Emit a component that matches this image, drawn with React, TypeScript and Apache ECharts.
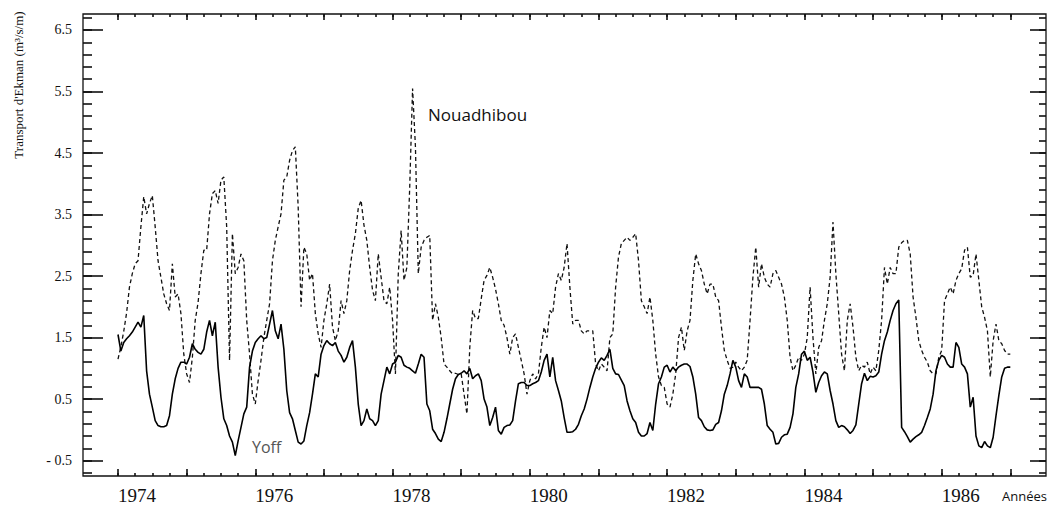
import React, { useEffect, useRef } from "react";
import * as echarts from "echarts";

// Ekman transport, semi-monthly samples starting January 1974
const START_YEAR = 1974;
const STEPS_PER_YEAR = 24;

const nouadhibou: number[] = [
  // 1974
  1.15, 1.35, 1.6, 1.9, 2.32, 2.54, 2.7, 2.75, 3.3, 3.79, 3.51, 3.68, 3.81, 3.3, 2.75, 2.48, 2.21, 2.05, 1.94, 2.7, 2.16, 2.21, 1.89, 1.23,
  // 1975
  0.91, 0.77, 1.18, 1.78, 2.07, 2.54, 2.92, 2.92, 3.51, 3.84, 3.89, 3.68, 4.06, 4.11, 3.3, 1.13, 3.19, 2.54, 2.64, 2.86, 2.75, 1.78, 1.23, 0.58,
  // 1976
  0.42, 0.8, 1.13, 1.5, 1.78, 2.05, 2.75, 3.08, 3.3, 3.51, 4.06, 4.11, 4.38, 4.54, 4.6, 3.62, 2.0, 2.97, 2.86, 2.43, 2.54, 1.89, 1.56, 1.34,
  // 1977
  1.78, 2.05, 2.37, 1.67, 1.45, 1.61, 2.1, 1.89, 2.1, 2.59, 2.92, 3.19, 3.6, 3.73, 3.33, 3.08, 2.64, 2.27, 2.1, 2.86, 2.48, 2.1, 2.05, 2.32,
  // 1978
  1.78, 0.91, 2.54, 3.24, 2.43, 2.64, 3.95, 5.55, 4.6, 2.54, 2.97, 3.08, 3.13, 3.16, 1.78, 2.05, 1.83, 1.5, 1.07, 1.02, 0.96, 0.91, 0.92, 0.9,
  // 1979
  0.91, 0.58, 0.26, 1.34, 1.94, 1.81, 1.81, 2.13, 2.43, 2.51, 2.64, 2.48, 2.29, 2.05, 1.78, 1.7, 1.5, 1.23, 1.5, 1.56, 1.34, 1.13, 0.91, 0.58,
  // 1980
  0.8, 0.91, 0.83, 0.91, 1.34, 1.67, 1.5, 1.94, 1.89, 2.32, 2.54, 2.43, 2.64, 3.03, 2.32, 1.72, 1.78, 1.78, 1.61, 1.56, 1.61, 1.61, 1.61, 1.07,
  // 1981
  0.96, 1.07, 1.02, 0.96, 1.5, 1.56, 2.32, 2.81, 3.03, 3.08, 3.13, 3.08, 3.13, 3.19, 2.75, 2.1, 2.0, 1.89, 2.16, 1.78, 1.23, 0.86, 0.72, 0.69,
  // 1982
  0.42, 0.37, 0.58, 0.91, 1.5, 1.67, 1.29, 1.61, 1.78, 2.43, 2.86, 2.7, 2.59, 2.37, 2.21, 2.37, 2.37, 2.16, 2.1, 1.67, 1.29, 1.13, 1.0, 1.02,
  // 1983
  1.1, 1.02, 0.96, 1.02, 1.13, 1.78, 2.48, 2.97, 2.32, 2.7, 2.48, 2.37, 2.32, 2.54, 2.59, 2.48, 2.37, 2.16, 1.78, 1.18, 0.96, 1.05, 1.18, 1.13,
  // 1984
  1.23, 1.5, 2.32, 1.5, 0.91, 1.34, 1.45, 1.78, 2.05, 2.48, 3.38, 2.54, 1.89, 1.23, 0.96, 1.78, 2.05, 1.67, 1.18, 0.96, 1.05, 1.02, 1.1, 0.91,
  // 1985
  1.02, 0.96, 1.29, 1.78, 2.64, 2.37, 2.64, 2.54, 2.54, 2.97, 3.04, 3.08, 3.08, 2.86, 2.16, 1.83, 1.45, 1.29, 1.18, 1.1, 0.96, 0.91, 0.91, 1.18,
  // 1986
  1.29, 2.1, 2.21, 2.32, 2.21, 2.43, 2.54, 2.62, 2.92, 2.97, 2.48, 2.51, 2.86, 2.43, 2.0, 1.83, 1.61, 0.86, 1.45, 1.72, 1.45, 1.4, 1.29, 1.23,
  // 1987
  1.23,
];

const yoff: number[] = [
  // 1974
  1.55, 1.28, 1.42, 1.48, 1.53, 1.59, 1.67, 1.75, 1.67, 1.86, 0.96, 0.58, 0.37, 0.15, 0.07, 0.05, 0.05, 0.07, 0.23, 0.58, 0.83, 1.0, 1.1, 1.1,
  // 1975
  1.07, 1.18, 1.4, 1.31, 1.26, 1.23, 1.31, 1.59, 1.78, 1.53, 1.75, 1.02, 0.53, 0.18, 0.07, -0.1, -0.2, -0.42, -0.18, 0.04, 0.26, 0.37, 1.02, 1.28,
  // 1976
  1.42, 1.48, 1.53, 1.48, 1.5, 1.72, 1.94, 1.61, 1.48, 1.72, 1.31, 0.64, 0.28, 0.18, -0.01, -0.2, -0.23, -0.18, 0.07, 0.28, 0.58, 0.91, 0.86, 1.23,
  // 1977
  1.37, 1.45, 1.4, 1.37, 1.42, 1.28, 1.21, 1.1, 1.18, 1.34, 1.45, 1.02, 0.42, 0.07, 0.15, 0.34, 0.18, 0.15, 0.07, 0.15, 0.58, 0.8, 1.02, 0.91,
  // 1978
  1.07, 1.1, 1.21, 1.18, 1.05, 1.02, 1.0, 0.96, 0.92, 1.07, 1.23, 1.18, 0.42, 0.31, 0.01, -0.06, -0.15, -0.19, -0.04, 0.18, 0.42, 0.66, 0.83, 0.9,
  // 1979
  0.92, 0.96, 0.91, 1.0, 0.83, 0.88, 0.91, 0.8, 0.5, 0.37, 0.07, 0.2, 0.37, -0.01, -0.07, 0.04, 0.07, 0.08, 0.15, 0.47, 0.75, 0.77, 0.77, 0.72,
  // 1980
  0.72, 0.75, 0.77, 0.8, 0.94, 1.13, 1.23, 0.86, 1.18, 0.8, 0.64, 0.47, 0.2, -0.04, -0.04, -0.03, 0.01, 0.09, 0.23, 0.34, 0.5, 0.69, 0.86, 1.0,
  // 1981
  1.1, 1.17, 1.13, 1.21, 1.31, 1.0, 0.91, 0.9, 0.81, 0.72, 0.47, 0.31, 0.18, 0.12, -0.04, -0.1, -0.1, -0.06, 0.12, -0.01, 0.42, 0.75, 0.86, 1.02,
  // 1982
  1.05, 0.94, 1.02, 0.96, 1.02, 1.05, 1.07, 1.07, 1.03, 0.86, 0.58, 0.2, 0.15, 0.05, 0.0, -0.01, 0.0, 0.09, 0.12, 0.31, 0.58, 0.72, 0.91, 1.13,
  // 1983
  1.02, 0.8, 0.69, 0.91, 0.86, 0.69, 0.69, 0.69, 0.69, 0.66, 0.42, 0.07, 0.01, -0.04, -0.23, -0.22, -0.12, -0.08, -0.07, 0.04, 0.26, 0.69, 0.91, 1.23,
  // 1984
  1.28, 1.13, 1.18, 0.94, 0.61, 0.77, 0.88, 0.94, 0.91, 0.64, 0.42, 0.15, 0.04, 0.07, 0.05, 0.0, -0.06, -0.01, 0.08, 0.42, 0.75, 0.92, 0.8, 0.87,
  // 1985
  0.86, 0.88, 0.94, 1.23, 1.45, 1.59, 1.78, 1.94, 2.05, 2.11, 0.04, -0.03, -0.11, -0.2, -0.15, -0.11, -0.08, -0.04, 0.07, 0.2, 0.34, 0.58, 0.96, 1.13,
  // 1986
  1.21, 1.18, 1.07, 1.02, 1.02, 1.42, 1.34, 1.07, 1.02, 0.91, 0.37, 0.53, -0.1, -0.26, -0.29, -0.19, -0.26, -0.29, -0.12, 0.23, 0.56, 0.86, 1.0, 1.02,
  // 1987
  1.02,
];

const xLabelYears = [1974, 1976, 1978, 1980, 1982, 1984, 1986];
const xMajorTicks = [1974, 1975, 1976, 1977, 1978, 1979, 1980, 1981, 1982, 1983, 1984, 1985, 1986, 1987];
const yLabelValues = [-0.5, 0.5, 1.5, 2.5, 3.5, 4.5, 5.5, 6.5];

const X_MIN = 1973.49;
const X_MAX = 1987.52;
const Y_MIN = -0.75;
const Y_MAX = 6.76;

const xMinorTicks: number[] = [];
for (let i = 0; i <= 13 * 4; i++) xMinorTicks.push(1974 + i * 0.25);
const yMinorTicks: number[] = [];
for (let i = 0; i <= 37; i++) yMinorTicks.push(Math.round((-0.7 + i * 0.2) * 10) / 10);

function toPairs(vals: number[]) {
  return vals.map((v, i) => [START_YEAR + i / STEPS_PER_YEAR, v]);
}

const SERIF = "'Liberation Serif', 'DejaVu Serif', serif";
const SANS = "'Open Sans', 'Noto Sans', sans-serif";
const INK = "#111";

export default function App() {
  const ref = useRef<HTMLDivElement>(null);
  useEffect(() => {
    if (!ref.current) return;
    const chart = echarts.init(ref.current, undefined, { renderer: "svg" });

    const xBase = (position: string, len: number, ticks: number[], label: any) => ({
      type: "value",
      min: X_MIN,
      max: X_MAX,
      position,
      offset: 0,
      splitLine: { show: false },
      axisLine: { show: false, onZero: false },
      axisTick: { show: true, inside: true, length: len, customValues: ticks, lineStyle: { color: INK, width: 1.6 } },
      axisLabel: label,
    });
    const yBase = (position: string, len: number, ticks: number[], label: any) => ({
      type: "value",
      min: Y_MIN,
      max: Y_MAX,
      position,
      offset: 0,
      splitLine: { show: false },
      axisLine: { show: false, onZero: false },
      axisTick: { show: true, inside: true, length: len, customValues: ticks, lineStyle: { color: INK, width: 1.6 } },
      axisLabel: label,
    });

    chart.setOption({
      animation: false,
      backgroundColor: "#fff",
      grid: {
        left: 83,
        right: 7,
        top: 14,
        bottom: 32,
        show: true,
        borderColor: INK,
        borderWidth: 1.3,
        containLabel: false,
        outerBoundsMode: "none",
      },
      xAxis: [
        xBase("bottom", 7, xMajorTicks, {
          show: true,
          customValues: xLabelYears,
          align: "left",
          margin: 10,
          fontSize: 19,
          fontFamily: SERIF,
          color: INK,
          formatter: (v: number) => String(Math.round(v)),
        }),
        xBase("bottom", 3, xMinorTicks, { show: false }),
        xBase("top", 6, xMajorTicks, { show: false }),
        xBase("top", 3, xMinorTicks, { show: false }),
      ],
      yAxis: [
        yBase("left", 20, yLabelValues, {
          show: true,
          customValues: yLabelValues,
          align: "right",
          verticalAlign: "middle",
          margin: 11,
          fontSize: 14,
          fontFamily: SERIF,
          color: INK,
          formatter: (v: number) => (v < 0 ? "- " + Math.abs(v).toFixed(1) : v.toFixed(1)),
        }),
        yBase("left", 9, yMinorTicks, { show: false }),
        yBase("right", 16, yLabelValues, { show: false }),
        yBase("right", 7, yMinorTicks, { show: false }),
      ],
      series: [
        {
          name: "Nouadhibou",
          type: "line",
          xAxisIndex: 0,
          yAxisIndex: 0,
          data: toPairs(nouadhibou),
          showSymbol: false,
          silent: true,
          lineStyle: { color: "#111", width: 1.3, type: [4, 3] },
        },
        {
          name: "Yoff",
          type: "line",
          xAxisIndex: 0,
          yAxisIndex: 0,
          data: toPairs(yoff),
          showSymbol: false,
          silent: true,
          lineStyle: { color: "#000", width: 1.6 },
        },
      ],
      graphic: [
        {
          type: "text",
          x: 18,
          y: 85,
          rotation: Math.PI / 2,
          style: {
            text: "Transport d'Ekman (m³/s/m)",
            fontSize: 13,
            fontFamily: SERIF,
            fill: INK,
            textAlign: "center",
            textVerticalAlign: "middle",
          },
        },
        {
          type: "text",
          x: 428,
          y: 114,
          style: {
            text: "Nouadhibou",
            fontSize: 17,
            fontFamily: SANS,
            fill: INK,
            textAlign: "left",
            textVerticalAlign: "middle",
          },
        },
        {
          type: "text",
          x: 252,
          y: 447,
          style: {
            text: "Yoff",
            fontSize: 16,
            fontFamily: SANS,
            fill: "#555",
            textAlign: "left",
            textVerticalAlign: "middle",
          },
        },
        {
          type: "text",
          x: 1047,
          y: 489,
          style: {
            text: "Années",
            fontSize: 13,
            fontFamily: SANS,
            fill: INK,
            textAlign: "right",
            textVerticalAlign: "top",
          },
        },
      ],
    });
    return () => chart.dispose();
  }, []);
  return (
    <div
      ref={ref}
      style={{ position: "fixed", left: 0, top: 0, width: 1053, height: 508, background: "#fff" }}
    />
  );
}
